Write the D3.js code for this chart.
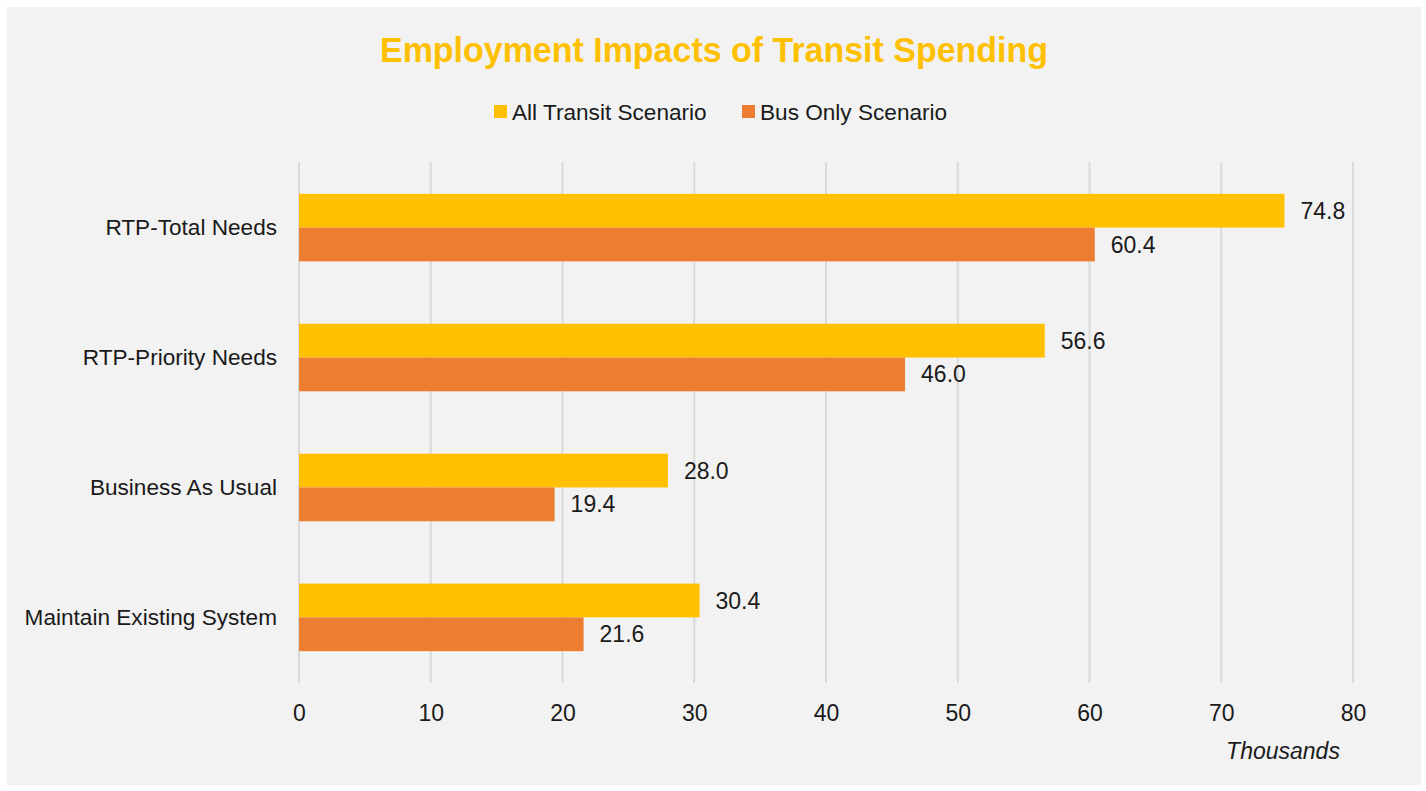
<!DOCTYPE html>
<html>
<head>
<meta charset="utf-8">
<script src="https://cdn.jsdelivr.net/npm/d3@7"></script>
<style>
  html, body { margin: 0; padding: 0; background: #ffffff; }
  svg { display: block; }
</style>
</head>
<body>
<svg id="chart" width="1426" height="791"></svg>
<script>
// Scenario categories, top to bottom
const categories = ["RTP-Total Needs", "RTP-Priority Needs", "Business As Usual", "Maintain Existing System"];
// Employment impacts, in thousands of jobs
const allTransit = [74.8, 56.6, 28.0, 30.4];
const busOnly = [60.4, 46.0, 19.4, 21.6];
const seriesNames = ["All Transit Scenario", "Bus Only Scenario"];
const xTicks = [0, 10, 20, 30, 40, 50, 60, 70, 80];

const colors = ["#FFC000", "#ED7D31"];
const svg = d3.select("#chart");
const font = "'Liberation Sans', Arial, sans-serif";
const fsText = 22.6;   // category and legend labels
const fsNum = 23;      // numbers and unit label

// chart area panel
svg.append("rect").attr("x", 7).attr("y", 7).attr("width", 1414).attr("height", 778).attr("fill", "#f2f2f2");

const plot = { left: 299, right: 1353, top: 162, bottom: 683 };

const x = d3.scaleLinear().domain([0, 80]).range([plot.left, plot.right]);
const y = d3.scaleBand().domain(categories).range([plot.top, plot.bottom]).paddingInner(0.48).paddingOuter(0.245);
const sub = d3.scaleBand().domain([0, 1]).range([0, y.bandwidth()]);

// vertical gridlines
svg.append("g").selectAll("line").data(xTicks).join("line")
  .attr("x1", d => x(d)).attr("x2", d => x(d))
  .attr("y1", plot.top).attr("y2", plot.bottom)
  .attr("stroke", "#d9d9d9").attr("stroke-width", 2);

// x axis tick labels
const xAxis = d3.axisBottom(x).tickValues(xTicks).tickSize(0).tickPadding(0).tickFormat(d3.format("d"));
const gx = svg.append("g").attr("transform", `translate(0,${plot.bottom + 38})`).call(xAxis);
gx.select(".domain").remove();
gx.selectAll("text").attr("font-family", font).attr("font-size", fsNum).attr("fill", "#1a1a1a").attr("dy", 0);

// category labels
const yAxis = d3.axisLeft(y).tickSize(0).tickPadding(22);
const gy = svg.append("g").attr("transform", `translate(${plot.left},0)`).call(yAxis);
gy.select(".domain").remove();
gy.selectAll("text").attr("font-family", font).attr("font-size", fsText).attr("fill", "#1a1a1a");

// bars
const rows = categories.map((c, i) => ({ c, vals: [allTransit[i], busOnly[i]] }));
const groups = svg.append("g").selectAll("g").data(rows).join("g")
  .attr("transform", d => `translate(0,${y(d.c)})`);
groups.selectAll("rect").data(d => d.vals.map((v, k) => ({ v, k }))).join("rect")
  .attr("x", x(0)).attr("y", d => sub(d.k))
  .attr("width", d => x(d.v) - x(0)).attr("height", sub.bandwidth())
  .attr("fill", d => colors[d.k]);
groups.selectAll("text").data(d => d.vals.map((v, k) => ({ v, k }))).join("text")
  .attr("x", d => x(d.v) + 16).attr("y", d => sub(d.k) + sub.bandwidth() / 2)
  .attr("dy", "0.35em")
  .attr("font-family", font).attr("font-size", fsNum).attr("fill", "#1a1a1a")
  .text(d => d3.format(".1f")(d.v));

// title
svg.append("text").attr("x", 714).attr("y", 62).attr("text-anchor", "middle")
  .attr("font-family", "'Liberation Sans Narrow', 'Arial Narrow', sans-serif")
  .attr("font-weight", "bold").attr("font-size", 35).attr("fill", "#FFC000")
  .attr("textLength", 668).attr("lengthAdjust", "spacingAndGlyphs")
  .text("Employment Impacts of Transit Spending");

// legend
const legend = svg.append("g");
const legendX = [494, 742];
seriesNames.forEach((name, i) => {
  legend.append("rect").attr("x", legendX[i]).attr("y", 105).attr("width", 13).attr("height", 13).attr("fill", colors[i]);
  legend.append("text").attr("x", legendX[i] + 18).attr("y", 120)
    .attr("font-family", font).attr("font-size", fsText).attr("fill", "#1a1a1a")
    .text(name);
});

// axis unit label
svg.append("text").attr("x", 1283).attr("y", 759).attr("text-anchor", "middle")
  .attr("font-family", font).attr("font-style", "italic").attr("font-size", fsNum).attr("fill", "#1a1a1a")
  .text("Thousands");
</script>
</body>
</html>
